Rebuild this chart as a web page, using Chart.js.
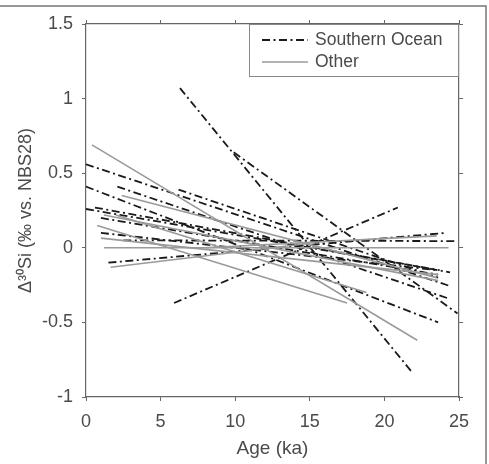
<!DOCTYPE html>
<html>
<head>
<meta charset="utf-8">
<script src="https://cdn.jsdelivr.net/npm/chart.js@4"></script>
<style>
  html, body { margin: 0; padding: 0; background: #fff; }
  #wrap { width: 489px; height: 464px; }
</style>
</head>
<body>
<div id="wrap"><canvas id="myChart" width="489" height="464"></canvas></div>
<script>
// each segment: [age start, value start, age end, value end]
var southernOcean = [
  [6.3, 1.07, 21.9, -0.84],
  [9.9, 0.64, 24.9, -0.44],
  [5.9, -0.37, 20.9, 0.27],
  [0.0, 0.56, 24.5, -0.26],
  [0.0, 0.41, 23.6, -0.50],
  [2.1, 0.41, 24.3, -0.34],
  [6.2, 0.39, 23.6, -0.20],
  [0.0, 0.26, 23.7, -0.15],
  [0.6, 0.27, 24.4, -0.165],
  [1.0, 0.10, 23.5, -0.15],
  [1.5, -0.10, 24.1, 0.10],
  [2.5, 0.05, 24.7, 0.045],
  [1.0, 0.20, 23.6, -0.18]
];
var other = [
  [0.4, 0.69, 22.2, -0.62],
  [0.75, 0.15, 17.5, -0.37],
  [2.4, 0.35, 23.5, -0.20],
  [1.2, 0.00, 24.3, 0.00],
  [1.0, 0.065, 23.6, -0.18],
  [1.65, -0.13, 15.0, 0.03],
  [1.2, 0.22, 23.6, -0.22],
  [2.0, 0.22, 18.8, -0.30],
  [8.0, 0.00, 23.5, 0.08]
];
var xTicks = [0, 5, 10, 15, 20, 25];
var yTicks = [-1, -0.5, 0, 0.5, 1, 1.5];
var seriesNames = ["Southern Ocean", "Other"];

var soColor = "#1a1a1a";
var otherColor = "#9a9a9a";
var soDash = [8, 3.5, 2, 3.5];
var fontFam = "'Liberation Sans', Arial, sans-serif";
var textColor = "#4a4a4a";

var datasets = [];
southernOcean.forEach(function (s) {
  datasets.push({
    label: seriesNames[0],
    data: [{ x: s[0], y: s[1] }, { x: s[2], y: s[3] }],
    borderColor: soColor, borderWidth: 1.8, borderDash: soDash,
    pointRadius: 0, fill: false
  });
});
other.forEach(function (s) {
  datasets.push({
    label: seriesNames[1],
    data: [{ x: s[0], y: s[1] }, { x: s[2], y: s[3] }],
    borderColor: otherColor, borderWidth: 1.6,
    pointRadius: 0, fill: false
  });
});
// draw gray first, dash-dot on top
datasets.reverse();

function plainNum(v) { return String(v); }

// legend box inside the plot + figure frame
var extras = {
  id: 'extras',
  afterDraw: function (chart) {
    var ctx = chart.ctx, a = chart.chartArea;
    ctx.save();
    ctx.strokeStyle = "#777";
    ctx.lineWidth = 1.5;
    ctx.beginPath();
    ctx.moveTo(0, 6); ctx.lineTo(486, 6); ctx.lineTo(486, 464);
    ctx.stroke();
    var bx = a.right - 210, by = a.top, bw = 210, bh = 52;
    ctx.fillStyle = "#fff";
    ctx.fillRect(bx, by, bw, bh);
    ctx.strokeStyle = "#888";
    ctx.lineWidth = 1;
    ctx.strokeRect(bx + 0.5, by + 0.5, bw - 1, bh);
    ctx.lineWidth = 1.8;
    ctx.strokeStyle = soColor;
    ctx.setLineDash(soDash);
    ctx.beginPath(); ctx.moveTo(bx + 13, by + 16); ctx.lineTo(bx + 59, by + 16); ctx.stroke();
    ctx.setLineDash([]);
    ctx.lineWidth = 1.6;
    ctx.strokeStyle = otherColor;
    ctx.beginPath(); ctx.moveTo(bx + 13, by + 38); ctx.lineTo(bx + 59, by + 38); ctx.stroke();
    ctx.fillStyle = textColor;
    ctx.font = "17.5px " + fontFam;
    ctx.textBaseline = "middle";
    ctx.fillText(seriesNames[0], bx + 66, by + 16);
    ctx.fillText(seriesNames[1], bx + 66, by + 38);
    ctx.restore();
  }
};

new Chart(document.getElementById("myChart"), {
  type: 'line',
  data: { datasets: datasets },
  options: {
    responsive: false,
    animation: false,
    layout: { padding: 0 },
    plugins: { legend: { display: false }, tooltip: { enabled: false } },
    scales: {
      x: {
        type: 'linear', min: 0, max: 25,
        afterBuildTicks: function (s) { s.ticks = xTicks.map(function (v) { return { value: v }; }); },
        afterFit: function (s) { s.height = 67; },
        grid: { drawOnChartArea: false, tickLength: 4, color: "#666" },
        border: { color: "#666", width: 1.2 },
        ticks: { color: textColor, font: { size: 18, family: fontFam }, padding: 10, maxRotation: 0, callback: plainNum },
        title: { display: true, text: "Age (ka)", color: textColor, font: { size: 19, family: fontFam }, padding: { top: 0, bottom: 4 } }
      },
      x2: {
        type: 'linear', position: 'top', min: 0, max: 25,
        afterBuildTicks: function (s) { s.ticks = xTicks.map(function (v) { return { value: v }; }); },
        afterFit: function (s) { s.height = 24; },
        grid: { drawOnChartArea: false, tickLength: 4, color: "#666" },
        border: { color: "#666", width: 1.2 },
        ticks: { display: false }
      },
      y: {
        type: 'linear', min: -1, max: 1.5,
        afterBuildTicks: function (s) { s.ticks = yTicks.map(function (v) { return { value: v }; }); },
        afterFit: function (s) { s.width = 86; },
        grid: { drawOnChartArea: false, tickLength: 4, color: "#666" },
        border: { color: "#666", width: 1.2 },
        ticks: { color: textColor, font: { size: 18, family: fontFam }, padding: 9, callback: plainNum },
        title: { display: true, text: "\u0394\u00b3\u2070Si (\u2030 vs. NBS28)", color: textColor, font: { size: 18, family: fontFam }, padding: { top: 15, bottom: 0 } }
      },
      y2: {
        type: 'linear', position: 'right', min: -1, max: 1.5,
        afterBuildTicks: function (s) { s.ticks = yTicks.map(function (v) { return { value: v }; }); },
        afterFit: function (s) { s.width = 30; },
        grid: { drawOnChartArea: false, tickLength: 4, color: "#666" },
        border: { color: "#666", width: 1.2 },
        ticks: { display: false }
      }
    }
  },
  plugins: [extras]
});
</script>
</body>
</html>
